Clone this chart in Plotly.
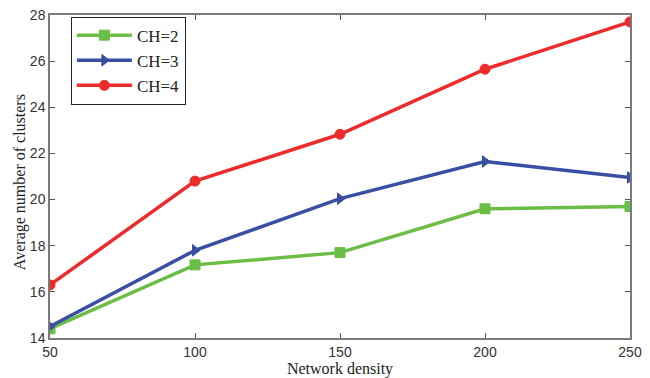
import plotly.graph_objects as go

density = [50, 100, 150, 200, 250]
ch2 = [14.4, 17.17, 17.7, 19.6, 19.7]
ch3 = [14.5, 17.8, 20.04, 21.65, 20.96]
ch4 = [16.3, 20.8, 22.83, 25.65, 27.7]
x_ticks = [50, 100, 150, 200, 250]
y_ticks = [14, 16, 18, 20, 22, 24, 26, 28]

fig = go.Figure()
series = [
    ("CH=2", ch2, "#6CBD45", "square"),
    ("CH=3", ch3, "#3A4FA3", "triangle-right"),
    ("CH=4", ch4, "#EE2B2B", "circle"),
]
for name, vals, col, sym in series:
    fig.add_trace(go.Scatter(
        x=density, y=vals, name=name, mode="lines+markers",
        line=dict(color=col, width=3.5),
        marker=dict(symbol=sym, size=10, color=col, line=dict(color=col, width=1)),
    ))

axis_common = dict(
    showline=True, linecolor="#7a7a7a", linewidth=1.5, mirror="ticks",
    ticks="inside", ticklen=5, tickcolor="#555555", tickwidth=1,
    showgrid=False, zeroline=False, automargin=False,
    tickfont=dict(family="Liberation Sans Narrow, Arial Narrow, Liberation Sans", size=14, color="#333333"),
)
fig.update_xaxes(range=[50, 250], tickvals=x_ticks, **axis_common,
                 title=dict(text="Network density", standoff=2,
                            font=dict(family="Liberation Serif, Times New Roman", size=16, color="#222222")))
fig.update_yaxes(range=[14, 28], tickvals=y_ticks, **axis_common)

fig.add_annotation(
    text="Average number of clusters", textangle=-90, showarrow=False,
    xref="paper", yref="paper", x=-0.052, y=0.482, xanchor="center", yanchor="middle",
    font=dict(family="Liberation Serif, Times New Roman", size=16, color="#222222"),
)

fig.update_layout(
    width=650, height=378,
    margin=dict(l=50, r=20, t=15, b=40, autoexpand=False),
    plot_bgcolor="white", paper_bgcolor="white",
    legend=dict(x=0.036, y=0.995, xanchor="left", yanchor="top",
                bordercolor="#222222", borderwidth=1, bgcolor="white",
                font=dict(family="Liberation Serif, Times New Roman", size=17, color="#222222"),
                itemwidth=55, tracegroupgap=0),
    showlegend=True,
)
fig.write_html("out.html", config={"displayModeBar": False},
               post_script="document.body.style.margin='0';document.body.style.overflow='hidden';")
